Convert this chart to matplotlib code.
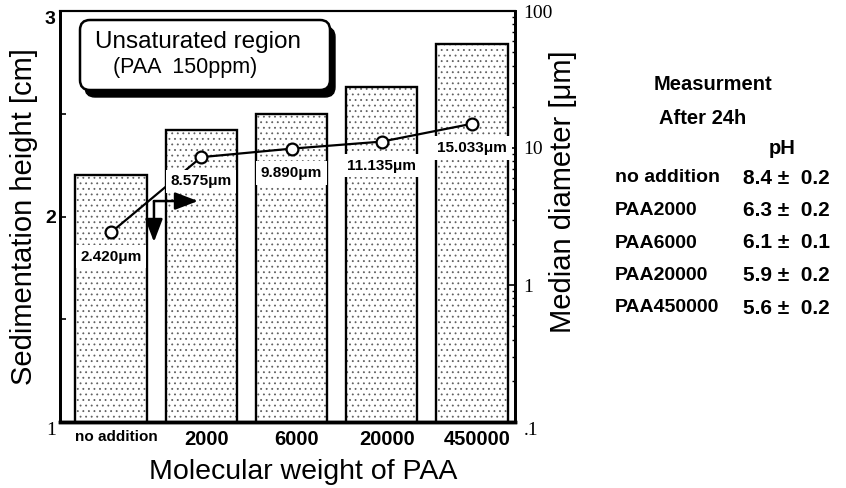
import numpy as np
import matplotlib
matplotlib.use('Agg')
import matplotlib.pyplot as plt
from matplotlib.patches import FancyBboxPatch
from matplotlib.transforms import IdentityTransform, ScaledTranslation
from matplotlib.ticker import LogLocator, NullFormatter

# values
categories = ['no addition', '2000', '6000', '20000', '450000']
sed_height = [2.20, 2.42, 2.50, 2.63, 2.84]            # cm
median_diam = [2.420, 8.575, 9.890, 11.135, 15.033]    # um
diam_labels = ['2.420μm', '8.575μm', '9.890μm', '11.135μm', '15.033μm']

ph_samples = ['no addition', 'PAA2000', 'PAA6000', 'PAA20000', 'PAA450000']
ph_values = ['8.4 ± 0.2', '6.3 ± 0.2', '6.1 ± 0.1', '5.9 ± 0.2', '5.6 ± 0.2']

# arrow (start / right tip / down tip) in data coords of the log axis
arrow_start = (0.476, 4.10)
arrow_right = (0.964, 4.10)
arrow_down = (0.476, 2.06)

W, H = 846, 488
plt.rcParams['font.family'] = ['Liberation Sans', 'DejaVu Sans']
plt.rcParams['hatch.linewidth'] = 0.6

fig = plt.figure(figsize=(W / 100, H / 100), dpi=100)
ax = fig.add_axes([60 / W, 66 / H, 455 / W, 411 / H])
x = np.arange(len(categories))

# dotted fill, then black outline on top
ax.bar(x, sed_height, width=0.79, color='white', edgecolor='#606060',
       hatch='...', linewidth=0)
ax.bar(x, sed_height, width=0.79, fill=False, edgecolor='black', linewidth=1.7)
ax.set_xlim(-0.565, 4.476)
ax.set_ylim(1, 3)

ax.set_xticks(x, categories)
ax.tick_params(axis='x', length=0, pad=6)
shift = ScaledTranslation(5 / 100, 0, fig.dpi_scale_trans)
for lab in ax.get_xticklabels():
    lab.set_fontweight('bold')
    lab.set_fontsize(11 if lab.get_text() == 'no addition' else 14.5)
    lab.set_transform(lab.get_transform() + shift)

ax.set_yticks([1, 2, 3], ['1', '2', '3'])
ax.set_yticks([1.5, 2.5], minor=True)
ax.tick_params(axis='y', which='both', direction='in', length=4, width=1.2, pad=3)
for lab in ax.get_yticklabels():
    if lab.get_text() == '1':
        lab.set_family('Liberation Serif')
        lab.set_fontsize(14)
        lab.set_va('top')
    else:
        lab.set_fontweight('bold')
        lab.set_fontsize(14)
        if lab.get_text() == '3':
            lab.set_va('top')

ax2 = ax.twinx()
ax2.set_yscale('log')
ax2.set_ylim(0.1, 100)
ax2.set_yticks([0.1, 1, 10, 100], ['.1', '1', '10', '100'])
ax2.yaxis.set_minor_locator(LogLocator(base=10, subs=np.arange(2, 10)))
ax2.yaxis.set_minor_formatter(NullFormatter())
ax2.tick_params(axis='y', which='major', direction='in', length=5, width=1.2, pad=6)
ax2.tick_params(axis='y', which='minor', direction='in', length=2.5, width=1.0)
for lab in ax2.get_yticklabels():
    lab.set_family('Liberation Serif')
    lab.set_fontsize(14)
    if lab.get_text() == '.1':
        lab.set_va('top')

for a in (ax, ax2):
    a.spines['left'].set_linewidth(2)
    a.spines['right'].set_linewidth(2)
    a.spines['bottom'].set_linewidth(2.5)
    a.spines['top'].set_linewidth(1.5)

ax2.plot(x, median_diam, '-o', color='black', lw=1.6, ms=8.5,
         mfc='white', mec='black', mew=1.6, zorder=3)
for xi, d, lab in zip(x, median_diam, diam_labels):
    ax2.annotate(lab, (xi, d), xytext=(0, -17.5), textcoords='offset points',
                 ha='center', va='center', fontsize=11, fontweight='bold',
                 bbox=dict(boxstyle='square,pad=0.3', fc='white', ec='none'),
                 zorder=4)

for tip in (arrow_right, arrow_down):
    ax2.annotate('', xy=tip, xytext=arrow_start, zorder=5,
                 arrowprops=dict(arrowstyle='-|>,head_length=1.0,head_width=0.38',
                                 mutation_scale=14, lw=1.8, color='black',
                                 shrinkA=0, shrinkB=0))

ax.set_ylabel('Sedimentation height [cm]', fontsize=21)
ax.yaxis.label.set_va('center')
ax.yaxis.set_label_coords(-0.08, 0.5)
ax2.set_ylabel('Median diameter [μm]', fontsize=21)
ax2.yaxis.label.set_va('center')
ax2.yaxis.set_label_coords(1.105, 0.56)
ax.set_xlabel('Molecular weight of PAA', fontsize=20.5)
ax.xaxis.label.set_va('center')
ax.xaxis.set_label_coords(0.534, -0.122)

# title box with drop shadow (pixel coords)
shadow = FancyBboxPatch((85, H - 97), 250, 70, boxstyle='round,pad=0,rounding_size=10',
                        transform=IdentityTransform(), fc='black', ec='black', lw=1)
box = FancyBboxPatch((80, H - 90), 250, 70, boxstyle='round,pad=0,rounding_size=10',
                     transform=IdentityTransform(), fc='white', ec='black', lw=1.8)
fig.add_artist(shadow)
fig.add_artist(box)
fig.text(95 / W, 1 - 42 / H, 'Unsaturated region', fontsize=17.5, va='center', ha='left')
fig.text(113 / W, 1 - 67 / H, '(PAA  150ppm)', fontsize=15.5, va='center', ha='left')

# pH table on the right
fig.text(713 / W, 1 - 85 / H, 'Measurment', fontsize=14.5, fontweight='bold',
         ha='center', va='center')
fig.text(703 / W, 1 - 118 / H, 'After 24h', fontsize=14.5, fontweight='bold',
         ha='center', va='center')
fig.text(782 / W, 1 - 148 / H, 'pH', fontsize=14.5, fontweight='bold', ha='center', va='center')
for i, (s, v) in enumerate(zip(ph_samples, ph_values)):
    yy = 1 - (178 + i * 32.5) / H
    fig.text(615 / W, yy, s, fontsize=14, fontweight='bold', ha='left', va='center')
    fig.text(743 / W, yy, v.replace(' ± ', ' ±  '), fontsize=15, fontweight='bold',
             ha='left', va='center')

fig.savefig('out.png', dpi=100)
